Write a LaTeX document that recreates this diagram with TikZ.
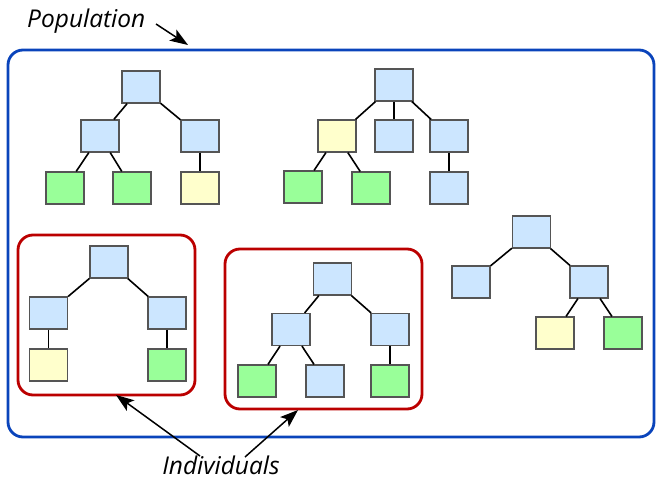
\documentclass[tikz,border=0pt]{standalone}
\usepackage{fontspec}
\setsansfont{Open Sans}
\usetikzlibrary{arrows.meta}
\definecolor{boxblue}{HTML}{CCE6FF}
\definecolor{boxgreen}{HTML}{99FF99}
\definecolor{boxyellow}{HTML}{FFFFCC}
\definecolor{popblue}{HTML}{0A44BB}
\definecolor{indred}{HTML}{BB0000}
\definecolor{edgegray}{HTML}{555555}
\tikzset{
  gene/.style={draw=edgegray, line width=1.2pt, minimum width=38pt, minimum height=32pt, inner sep=0pt},
  gb/.style={gene, fill=boxblue},
  gg/.style={gene, fill=boxgreen},
  gy/.style={gene, fill=boxyellow},
  link/.style={black, line width=1.6pt},
  frame/.style={rounded corners=15pt, line width=2.8pt},
  pointer/.style={-{Stealth[length=18pt,width=13pt,inset=4pt]}, line width=1.5pt, black},
  caption/.style={font=\sffamily\itshape\fontsize{24.5}{28}\selectfont, inner sep=0pt}
}
\begin{document}
\begin{tikzpicture}[x=1pt, y=-1pt]
\useasboundingbox (0,0) rectangle (656,484);

% population frame
\draw[frame, popblue] (8,50) rectangle (654,437);

% individual frames
\draw[frame, indred] (18,235) rectangle (195,395);
\draw[frame, indred] (225,249) rectangle (422,409);

% tree one
\node[gb] (a0) at (141,87) {};
\node[gb] (a1) at (100,136) {};
\node[gb] (a2) at (200,136) {};
\node[gg] (a3) at (65,188) {};
\node[gg] (a4) at (132,188) {};
\node[gy] (a5) at (200,188) {};
\draw[link] (a0) -- (a1); \draw[link] (a0) -- (a2);
\draw[link] (a1) -- (a3); \draw[link] (a1) -- (a4);
\draw[link] (a2) -- (a5);

% tree two
\node[gb] (b0) at (394,85) {};
\node[gy] (b1) at (337,136) {};
\node[gb] (b2) at (394,136) {};
\node[gb] (b3) at (449,136) {};
\node[gg] (b4) at (303,187) {};
\node[gg] (b5) at (371,188) {};
\node[gb] (b6) at (449,188) {};
\draw[link] (b0) -- (b1); \draw[link] (b0) -- (b2); \draw[link] (b0) -- (b3);
\draw[link] (b1) -- (b4); \draw[link] (b1) -- (b5);
\draw[link] (b3) -- (b6);

% tree three
\node[gb] (c0) at (109,262) {};
\node[gb] (c1) at (48.5,313) {};
\node[gb] (c2) at (167,313) {};
\node[gy] (c3) at (48.5,365) {};
\node[gg] (c4) at (167,365) {};
\draw[link] (c0) -- (c1); \draw[link] (c0) -- (c2);
\draw[link] (c1) -- (c3); \draw[link] (c2) -- (c4);

% tree four
\node[gb] (d0) at (332.5,279) {};
\node[gb] (d1) at (291,329.5) {};
\node[gb] (d2) at (390,329.5) {};
\node[gg] (d3) at (257,381) {};
\node[gb] (d4) at (325,381) {};
\node[gg] (d5) at (390,381) {};
\draw[link] (d0) -- (d1); \draw[link] (d0) -- (d2);
\draw[link] (d1) -- (d3); \draw[link] (d1) -- (d4);
\draw[link] (d2) -- (d5);

% tree five
\node[gb] (e0) at (531.5,232) {};
\node[gb] (e1) at (471,282) {};
\node[gb] (e2) at (589,282) {};
\node[gy] (e3) at (555,333) {};
\node[gg] (e4) at (623,333) {};
\draw[link] (e0) -- (e1); \draw[link] (e0) -- (e2);
\draw[link] (e2) -- (e3); \draw[link] (e2) -- (e4);

% labels and pointers
\node[caption, anchor=base west] (pop) at (27,28) {Population};
\coordinate (popTip) at (188,45);
\draw[pointer] (156,24) -- (popTip);

\node[caption, anchor=base] (ind) at (221,474) {Individuals};
\coordinate (indTipA) at (116,395);
\coordinate (indTipB) at (298,410);
\draw[pointer] (200,456) -- (indTipA);
\draw[pointer] (245,457) -- (indTipB);
\end{tikzpicture}
\end{document}
